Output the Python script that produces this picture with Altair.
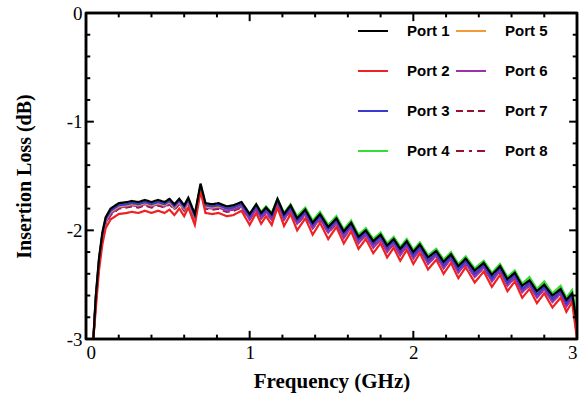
import altair as alt
import pandas as pd

FREQ = [0.045, 0.06, 0.08, 0.10, 0.12, 0.15, 0.20, 0.25, 0.28, 0.32, 0.36, 0.40, 0.44, 0.48,
        0.51, 0.54, 0.57, 0.60, 0.625, 0.665, 0.70, 0.73, 0.77, 0.81, 0.86, 0.90, 0.95, 1.00,
        1.04, 1.07, 1.10, 1.135, 1.17, 1.21, 1.25, 1.29, 1.34, 1.385, 1.43, 1.48, 1.53, 1.575,
        1.62, 1.665, 1.71, 1.755, 1.80, 1.84, 1.88, 1.92, 1.96, 2.00, 2.04, 2.09, 2.14, 2.185,
        2.23, 2.275, 2.32, 2.375, 2.43, 2.48, 2.53, 2.575, 2.62, 2.665, 2.71, 2.755, 2.80, 2.85,
        2.90, 2.935, 2.97, 3.00]

PORT1 = [-3.00, -2.60, -2.25, -2.02, -1.88, -1.80, -1.75, -1.74, -1.73, -1.74, -1.72, -1.74, -1.72, -1.74,
         -1.71, -1.76, -1.71, -1.77, -1.70, -1.85, -1.57, -1.75, -1.76, -1.75, -1.78, -1.77, -1.74, -1.85,
         -1.76, -1.84, -1.79, -1.85, -1.71, -1.85, -1.77, -1.89, -1.81, -1.93, -1.85, -1.97, -1.89, -2.01,
         -1.93, -2.06, -2.00, -2.10, -2.04, -2.14, -2.08, -2.17, -2.10, -2.20, -2.13, -2.25, -2.19, -2.29,
         -2.22, -2.33, -2.26, -2.37, -2.30, -2.41, -2.33, -2.45, -2.39, -2.51, -2.46, -2.56, -2.50, -2.60,
         -2.54, -2.64, -2.58, -2.86]
PORT2 = [-3.00, -2.72, -2.36, -2.13, -1.98, -1.90, -1.85, -1.84, -1.83, -1.84, -1.82, -1.84, -1.82, -1.84,
         -1.81, -1.86, -1.80, -1.87, -1.79, -1.95, -1.64, -1.84, -1.85, -1.84, -1.87, -1.86, -1.82, -1.95,
         -1.84, -1.94, -1.87, -1.95, -1.79, -1.96, -1.85, -2.00, -1.89, -2.04, -1.93, -2.08, -1.97, -2.12,
         -2.01, -2.17, -2.08, -2.21, -2.12, -2.25, -2.16, -2.28, -2.18, -2.31, -2.21, -2.36, -2.27, -2.40,
         -2.30, -2.44, -2.34, -2.48, -2.38, -2.52, -2.41, -2.56, -2.47, -2.62, -2.54, -2.67, -2.58, -2.71,
         -2.62, -2.75, -2.66, -3.00]
PORT3 = [-3.00, -2.62, -2.27, -2.04, -1.90, -1.82, -1.77, -1.76, -1.75, -1.76, -1.74, -1.76, -1.74, -1.76,
         -1.73, -1.78, -1.73, -1.79, -1.72, -1.87, -1.59, -1.77, -1.78, -1.77, -1.80, -1.79, -1.76, -1.87,
         -1.78, -1.86, -1.81, -1.87, -1.73, -1.87, -1.79, -1.91, -1.83, -1.95, -1.87, -1.99, -1.91, -2.03,
         -1.95, -2.08, -2.02, -2.12, -2.06, -2.16, -2.10, -2.19, -2.12, -2.23, -2.15, -2.28, -2.21, -2.32,
         -2.24, -2.36, -2.28, -2.40, -2.32, -2.44, -2.35, -2.48, -2.41, -2.54, -2.48, -2.59, -2.52, -2.63,
         -2.56, -2.67, -2.60, -2.92]
PORT4 = [-3.00, -2.61, -2.26, -2.03, -1.89, -1.81, -1.76, -1.75, -1.74, -1.75, -1.73, -1.75, -1.73, -1.75,
         -1.72, -1.77, -1.72, -1.78, -1.71, -1.86, -1.58, -1.76, -1.77, -1.76, -1.78, -1.77, -1.74, -1.85,
         -1.76, -1.83, -1.78, -1.84, -1.71, -1.84, -1.76, -1.87, -1.79, -1.91, -1.83, -1.95, -1.87, -1.99,
         -1.91, -2.04, -1.98, -2.08, -2.02, -2.12, -2.06, -2.15, -2.08, -2.18, -2.11, -2.23, -2.17, -2.27,
         -2.20, -2.31, -2.24, -2.35, -2.28, -2.39, -2.31, -2.43, -2.37, -2.49, -2.43, -2.54, -2.47, -2.58,
         -2.51, -2.62, -2.55, -2.80]
PORT5 = [-3.00, -2.63, -2.28, -2.05, -1.91, -1.83, -1.78, -1.77, -1.76, -1.77, -1.75, -1.77, -1.75, -1.77,
         -1.74, -1.79, -1.74, -1.80, -1.73, -1.88, -1.60, -1.78, -1.79, -1.78, -1.80, -1.79, -1.76, -1.86,
         -1.77, -1.85, -1.79, -1.85, -1.72, -1.85, -1.77, -1.88, -1.80, -1.92, -1.84, -1.96, -1.88, -2.00,
         -1.92, -2.05, -1.99, -2.09, -2.03, -2.13, -2.07, -2.16, -2.09, -2.19, -2.12, -2.24, -2.18, -2.28,
         -2.21, -2.32, -2.25, -2.36, -2.29, -2.40, -2.32, -2.44, -2.38, -2.50, -2.45, -2.55, -2.49, -2.59,
         -2.53, -2.63, -2.57, -2.83]
PORT6 = [-3.00, -2.65, -2.30, -2.07, -1.93, -1.85, -1.79, -1.78, -1.77, -1.78, -1.76, -1.78, -1.76, -1.78,
         -1.75, -1.80, -1.75, -1.81, -1.74, -1.89, -1.61, -1.79, -1.80, -1.79, -1.82, -1.81, -1.78, -1.90,
         -1.80, -1.89, -1.83, -1.90, -1.75, -1.90, -1.81, -1.94, -1.85, -1.98, -1.89, -2.02, -1.93, -2.07,
         -1.97, -2.12, -2.04, -2.16, -2.08, -2.20, -2.12, -2.23, -2.14, -2.26, -2.17, -2.31, -2.23, -2.35,
         -2.26, -2.39, -2.30, -2.43, -2.34, -2.47, -2.37, -2.51, -2.43, -2.57, -2.50, -2.62, -2.54, -2.66,
         -2.58, -2.70, -2.62, -2.95]
PORT7 = [-3.00, -2.66, -2.31, -2.08, -1.94, -1.86, -1.80, -1.79, -1.78, -1.79, -1.77, -1.79, -1.77, -1.79,
         -1.76, -1.81, -1.76, -1.82, -1.75, -1.90, -1.62, -1.80, -1.81, -1.80, -1.83, -1.82, -1.79, -1.90,
         -1.81, -1.89, -1.84, -1.90, -1.76, -1.90, -1.82, -1.94, -1.86, -1.98, -1.90, -2.02, -1.94, -2.06,
         -1.98, -2.11, -2.05, -2.15, -2.09, -2.19, -2.13, -2.22, -2.15, -2.25, -2.18, -2.30, -2.24, -2.34,
         -2.27, -2.38, -2.31, -2.42, -2.35, -2.46, -2.38, -2.50, -2.44, -2.56, -2.51, -2.61, -2.55, -2.65,
         -2.59, -2.69, -2.63, -2.96]
PORT8 = [-3.00, -2.64, -2.29, -2.06, -1.92, -1.84, -1.78, -1.77, -1.76, -1.77, -1.75, -1.77, -1.75, -1.77,
         -1.74, -1.79, -1.74, -1.80, -1.73, -1.88, -1.60, -1.78, -1.79, -1.78, -1.81, -1.80, -1.77, -1.88,
         -1.79, -1.87, -1.82, -1.88, -1.74, -1.88, -1.80, -1.92, -1.84, -1.96, -1.88, -2.00, -1.92, -2.04,
         -1.96, -2.09, -2.03, -2.13, -2.07, -2.17, -2.11, -2.20, -2.13, -2.23, -2.16, -2.28, -2.22, -2.32,
         -2.25, -2.36, -2.29, -2.40, -2.33, -2.44, -2.36, -2.48, -2.42, -2.54, -2.49, -2.59, -2.53, -2.63,
         -2.57, -2.67, -2.61, -2.93]

PORTS = ["Port 1", "Port 2", "Port 3", "Port 4", "Port 5", "Port 6", "Port 7", "Port 8"]
SERIES = [PORT1, PORT2, PORT3, PORT4, PORT5, PORT6, PORT7, PORT8]
COLORS = ["#000000", "#ee2222", "#3a3ad0", "#33dd33", "#f29b38", "#9933aa", "#9b1030", "#9b1030"]
DASHES = [[1, 0], [1, 0], [1, 0], [1, 0], [1, 0], [1, 0], [7, 4], [8, 5, 3, 5]]

X_MAJOR = [0, 1, 2, 3]
X_MINOR = [0.2, 0.4, 0.6, 0.8, 1.2, 1.4, 1.6, 1.8, 2.2, 2.4, 2.6, 2.8]
Y_MAJOR = [-3, -2, -1, 0]
Y_MINOR = [-2.8, -2.6, -2.4, -2.2, -1.8, -1.6, -1.4, -1.2, -0.8, -0.6, -0.4, -0.2]

# inward tick lengths, in data units of the other axis
XTICK_MAJOR_LEN = 0.075  # dB
XTICK_MINOR_LEN = 0.04   # dB
YTICK_MAJOR_LEN = 0.048  # GHz
YTICK_MINOR_LEN = 0.026  # GHz

# rows from Port 8 down to Port 1, so that Port 1 is drawn last (on top)
rows = []
for name, vals in reversed(list(zip(PORTS, SERIES))):
    for f, v in zip(FREQ, vals):
        rows.append({"freq": f, "loss": v, "port": name})
df = pd.DataFrame(rows)

tick_rows = []
for v in X_MAJOR:
    tick_rows.append({"tx": v, "tx2": v, "ty": -3, "ty2": -3 + XTICK_MAJOR_LEN})
    tick_rows.append({"tx": v, "tx2": v, "ty": 0, "ty2": -XTICK_MAJOR_LEN})
for v in X_MINOR:
    tick_rows.append({"tx": v, "tx2": v, "ty": -3, "ty2": -3 + XTICK_MINOR_LEN})
    tick_rows.append({"tx": v, "tx2": v, "ty": 0, "ty2": -XTICK_MINOR_LEN})
for v in Y_MAJOR:
    tick_rows.append({"tx": 0, "tx2": YTICK_MAJOR_LEN, "ty": v, "ty2": v})
    tick_rows.append({"tx": 3, "tx2": 3 - YTICK_MAJOR_LEN, "ty": v, "ty2": v})
for v in Y_MINOR:
    tick_rows.append({"tx": 0, "tx2": YTICK_MINOR_LEN, "ty": v, "ty2": v})
    tick_rows.append({"tx": 3, "tx2": 3 - YTICK_MINOR_LEN, "ty": v, "ty2": v})
ticks_df = pd.DataFrame(tick_rows)

color_scale = alt.Scale(domain=PORTS, range=COLORS)
dash_scale = alt.Scale(domain=PORTS, range=DASHES)
xscale = alt.Scale(domain=[0, 3], nice=False, zero=False)
yscale = alt.Scale(domain=[-3, 0], nice=False, zero=False)

legend = alt.Legend(
    title=None, orient="none", legendX=271, legendY=2, columns=2,
    symbolType="stroke", symbolSize=900, symbolStrokeWidth=2,
    labelFont="Liberation Sans", labelFontWeight="bold", labelFontSize=15, labelColor="#000000",
    labelOffset=18, rowPadding=16, columnPadding=2,
)
x_axis = alt.Axis(
    values=X_MAJOR, ticks=False, domain=False, grid=False,
    labelFont="Liberation Serif", labelFontSize=19, labelColor="#000000", labelPadding=4,
    labelExpr="'' + datum.value",
    title="Frequency (GHz)", titleFont="Liberation Serif", titleFontSize=21,
    titleFontWeight="bold", titleColor="#000000", titlePadding=8,
)
y_axis = alt.Axis(
    values=Y_MAJOR, ticks=False, domain=False, grid=False,
    labelFont="Liberation Serif", labelFontSize=19, labelColor="#000000", labelPadding=4,
    labelExpr="'' + datum.value",
    title="Insertion Loss (dB)", titleFont="Liberation Serif", titleFontSize=20,
    titleFontWeight="bold", titleColor="#000000", titlePadding=32,
)

lines = alt.Chart(df).mark_line(strokeWidth=2.2).encode(
    x=alt.X("freq:Q", scale=xscale, axis=x_axis),
    y=alt.Y("loss:Q", scale=yscale, axis=y_axis),
    color=alt.Color("port:N", scale=color_scale, legend=legend),
    strokeDash=alt.StrokeDash("port:N", scale=dash_scale, legend=legend),
)
tick_layer = alt.Chart(ticks_df).mark_rule(color="#000000", strokeWidth=2).encode(
    x=alt.X("tx:Q", scale=xscale, axis=x_axis), x2="tx2:Q",
    y=alt.Y("ty:Q", scale=yscale, axis=y_axis), y2="ty2:Q",
)
frame_rows = [
    {"tx": 0, "tx2": 3, "ty": 0, "ty2": 0},
    {"tx": 0, "tx2": 3, "ty": -3, "ty2": -3},
    {"tx": 0, "tx2": 0, "ty": -3, "ty2": 0},
    {"tx": 3, "tx2": 3, "ty": -3, "ty2": 0},
]
frame_layer = alt.Chart(pd.DataFrame(frame_rows)).mark_rule(color="#000000", strokeWidth=2.5).encode(
    x=alt.X("tx:Q", scale=xscale, axis=x_axis), x2="tx2:Q",
    y=alt.Y("ty:Q", scale=yscale, axis=y_axis), y2="ty2:Q",
)

chart = alt.layer(lines, tick_layer, frame_layer).properties(
    width=491, height=326,
    padding={"left": 86, "top": 13, "right": 8, "bottom": 62},
    autosize=alt.AutoSizeParams(type="none"),
).configure_view(stroke="#000000", strokeWidth=2.5)

chart.save("out.html", embed_options={"renderer": "svg", "actions": False})
